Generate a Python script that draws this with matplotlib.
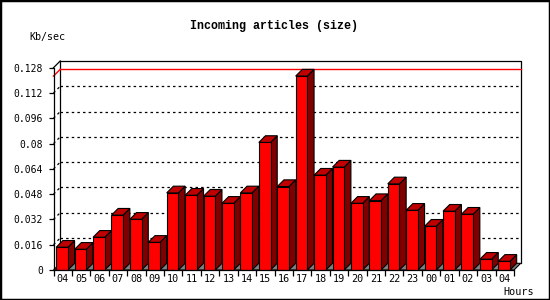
import matplotlib
matplotlib.use('Agg')
import matplotlib.pyplot as plt
from matplotlib.patches import Polygon, Rectangle
import numpy as np

title = 'Incoming articles (size)'
ylabel = 'Kb/sec'
xlabel = 'Hours'
hours = ['04', '05', '06', '07', '08', '09', '10', '11', '12', '13', '14', '15',
         '16', '17', '18', '19', '20', '21', '22', '23', '00', '01', '02', '03', '04']
values = [0.0144, 0.0131, 0.0207, 0.0347, 0.0321, 0.0175, 0.0488, 0.0473, 0.0467,
          0.0422, 0.0488, 0.0807, 0.0528, 0.1227, 0.0600, 0.0651, 0.0422, 0.0439,
          0.0545, 0.0378, 0.0277, 0.0372, 0.0353, 0.0068, 0.0055]
yticks = [0, 0.016, 0.032, 0.048, 0.064, 0.08, 0.096, 0.112, 0.128]
ytick_labels = ['0', '0.016', '0.032', '0.048', '0.064', '0.08', '0.096', '0.112', '0.128']

mono = 'DejaVu Sans Mono'
fig = plt.figure(figsize=(5.5, 3), dpi=100)
fig.patch.set_facecolor('white')
ax = fig.add_axes([53.5 / 550, 30 / 300, 460.5 / 550, 202.3 / 300])
ax.set_xlim(-0.5, 24.5)
ax.set_ylim(0, 0.128)
for s in ax.spines.values():
    s.set_visible(False)
ax.patch.set_visible(False)

# 3d depth in data units (~6.7 px)
dx = 6.7 / 18.42
dy = 6.7 / 202.3 * 0.128
left = -0.5 + 2.7 / 18.42
w = 11.7 / 18.42
n = len(values)
x0, x1 = -0.5, n - 0.5
ymax = 0.128

kw = dict(clip_on=False, color='black', lw=0.9)
# floor
ax.add_patch(Polygon([(x0, 0), (x1, 0), (x1 + dx, dy), (x0 + dx, dy)], closed=True,
                     facecolor='#808080', edgecolor='black', lw=0.8, clip_on=False, zorder=1))
# back grid lines + diagonals
for v in yticks[1:-1]:
    ax.plot([x0 + dx, x1 + dx], [v + dy, v + dy], ls=(0, (2, 2.5)), clip_on=False,
            color='black', lw=0.9, zorder=1)
    ax.plot([x0, x0 + dx], [v, v + dy], ls=(0, (2, 2.5)), clip_on=False,
            color='black', lw=0.9, zorder=1)
# max line
vmax = max(values)
ax.plot([x0 + dx, x1 + dx], [vmax + dy, vmax + dy], color='red', lw=1, clip_on=False, zorder=1.5)
ax.plot([x0, x0 + dx], [vmax, vmax + dy], color='red', lw=1, clip_on=False, zorder=1.5)
# frame
ax.plot([x0 + dx, x1 + dx, x1 + dx], [ymax + dy, ymax + dy, dy], zorder=1, **kw)
ax.plot([x0 + dx, x0 + dx], [dy, ymax + dy], zorder=1, **kw)
ax.plot([x0, x0 + dx], [ymax, ymax + dy], zorder=1, **kw)
ax.plot([x0, x0], [0, ymax], zorder=5, **kw)
ax.plot([x0, x1], [0, 0], zorder=5, **kw)

# bars
for i, v in enumerate(values):
    l = i + left
    side = Polygon([(l + w, 0), (l + w + dx, dy), (l + w + dx, v + dy), (l + w, v)], closed=True,
                   facecolor='#800000', edgecolor='black', lw=0.8, clip_on=False, zorder=2 + i * 0.01)
    top = Polygon([(l, v), (l + dx, v + dy), (l + w + dx, v + dy), (l + w, v)], closed=True,
                  facecolor='#c00000', edgecolor='black', lw=0.8, clip_on=False, zorder=2 + i * 0.01)
    ax.add_patch(side)
    ax.add_patch(top)
ax.bar(np.arange(n) + left, values, width=w, align='edge', color='#ff0000',
       edgecolor='black', linewidth=0.8, zorder=3)

# ticks
ax.set_yticks(yticks)
ax.set_yticklabels(ytick_labels, fontfamily=mono, fontsize=7)
ax.tick_params(axis='y', length=3.5, width=0.9, pad=4)
ax.set_xticks(np.arange(n + 1) - 0.5)
ax.set_xticklabels([])
ax.set_xticks(np.arange(n), minor=True)
ax.set_xticklabels(hours, minor=True, fontfamily=mono, fontsize=7.3)
ax.tick_params(axis='x', which='major', length=4, width=0.9)
ax.tick_params(axis='x', which='minor', length=0, pad=3)

fig.text(274 / 550, 1 - 26.5 / 300, title, ha='center', va='center',
         fontfamily='Liberation Mono', fontweight='bold', fontsize=8.4)
fig.text(47 / 550, 1 - 37 / 300, ylabel, ha='center', va='center', fontfamily=mono, fontsize=7.2)
fig.text(519 / 550, 1 - 292 / 300, xlabel, ha='center', va='center', fontfamily=mono, fontsize=7.3)

fig.patches.append(Rectangle((0, 0), 1, 1, transform=fig.transFigure, fill=False,
                             edgecolor='black', lw=2.5))

fig.savefig('out.png', dpi=100)
